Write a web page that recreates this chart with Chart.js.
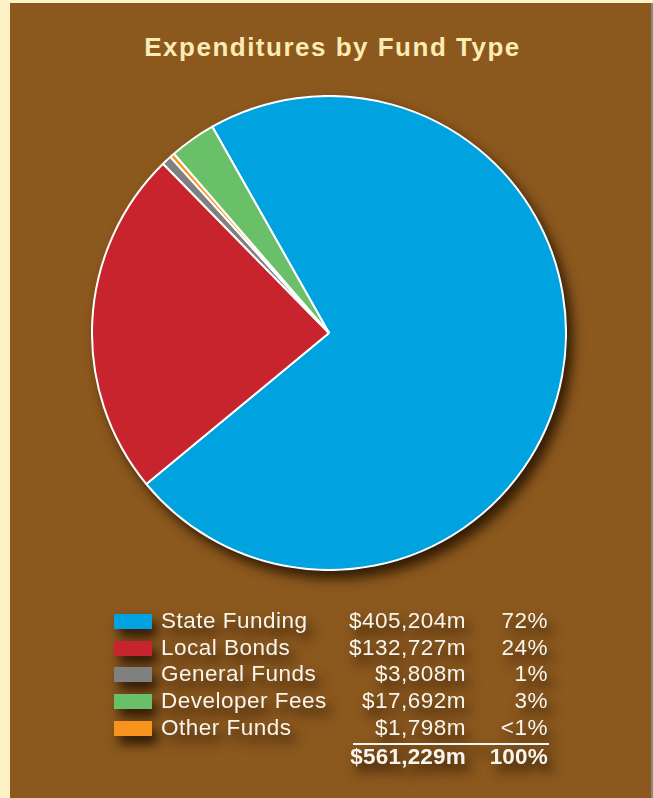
<!DOCTYPE html>
<html>
<head>
<meta charset="utf-8">
<script src="https://cdn.jsdelivr.net/npm/chart.js@4"></script>
<style>
  html, body { margin: 0; padding: 0; }
  body { width: 653px; height: 798px; background: #fdf2c6; position: relative; overflow: hidden; font-family: "Liberation Sans", Arial, sans-serif; }
  #panel { position: absolute; left: 10px; top: 3px; width: 641px; height: 795px; background: #8b581e; }
  #edge { position: absolute; left: 651px; top: 3px; width: 2px; height: 795px; background: #8a8a78; }
  #title { position: absolute; left: 0; width: 665px; top: 32px; text-align: center; color: #fcebb2; font-weight: bold; font-size: 26px; letter-spacing: 1.5px; line-height: 30px; }
  #pie { position: absolute; left: 91px; top: 95px; filter: drop-shadow(6px 8px 6px rgba(35, 18, 0, 0.85)); }
  #legend { position: absolute; left: 114px; top: 608px; width: 440px; color: #f8f5ee; font-size: 22.5px; letter-spacing: 0.5px; filter: drop-shadow(5px 8px 6px rgba(30, 14, 0, 0.9)); }
  .row { position: relative; height: 26.7px; line-height: 26.7px; }
  .sw { position: absolute; left: 0; top: 6px; width: 38px; height: 15px; }
  .lab { position: absolute; left: 47px; }
  .val { position: absolute; right: 88px; }
  .pct { position: absolute; right: 6px; }
  .rule { position: absolute; left: 239px; width: 196px; height: 2px; background: #f8f5ee; }
  .total { font-weight: bold; letter-spacing: 0.2px; }
</style>
</head>
<body>
<div id="panel"></div>
<div id="edge"></div>
<div id="title">Expenditures by Fund Type</div>
<canvas id="pie" width="476" height="476"></canvas>
<div id="legend"></div>

<script>
// Расходы по типу фонда (млн $)
const categories = ["State Funding", "Local Bonds", "General Funds", "Developer Fees", "Other Funds"];
const amounts = [405204, 132727, 3808, 17692, 1798];
const pctLabels = ["72%", "24%", "1%", "3%", "<1%"];
const totalPct = "100%";
const colors = ["#00a3df", "#c8242d", "#808080", "#6abf69", "#f7941d"];
// порядок секторов по часовой стрелке
const sliceOrder = [0, 1, 2, 4, 3];

const fmt = (v) => "$" + v.toLocaleString("en-US") + "m";

// Легенда-таблица
const legend = document.getElementById("legend");
categories.forEach((name, i) => {
  const row = document.createElement("div");
  row.className = "row";
  row.innerHTML =
    '<span class="sw" style="background:' + colors[i] + '"></span>' +
    '<span class="lab">' + name + "</span>" +
    '<span class="val">' + fmt(amounts[i]) + "</span>" +
    '<span class="pct">' + pctLabels[i].replace("<", "&lt;") + "</span>";
  legend.appendChild(row);
});
const rule = document.createElement("div");
rule.className = "rule";
rule.style.top = 5 * 26.7 + 1.5 + "px";
legend.appendChild(rule);
const total = amounts.reduce((a, b) => a + b, 0);
const totalRow = document.createElement("div");
totalRow.className = "row total";
totalRow.style.marginTop = "2.5px";
totalRow.innerHTML = '<span class="val">' + fmt(total) + '</span><span class="pct">' + totalPct + "</span>";
legend.appendChild(totalRow);

// Круговая диаграмма
const ctx = document.getElementById("pie").getContext("2d");
new Chart(ctx, {
  type: "pie",
  data: {
    labels: sliceOrder.map((i) => categories[i]),
    datasets: [
      {
        data: sliceOrder.map((i) => amounts[i]),
        backgroundColor: sliceOrder.map((i) => colors[i]),
        borderColor: "#ffffff",
        borderWidth: 2,
      },
    ],
  },
  options: {
    responsive: false,
    animation: false,
    rotation: -29.5,
    layout: { padding: 0 },
    plugins: {
      legend: { display: false },
      tooltip: { enabled: false },
    },
  },
});
</script>
</body>
</html>
